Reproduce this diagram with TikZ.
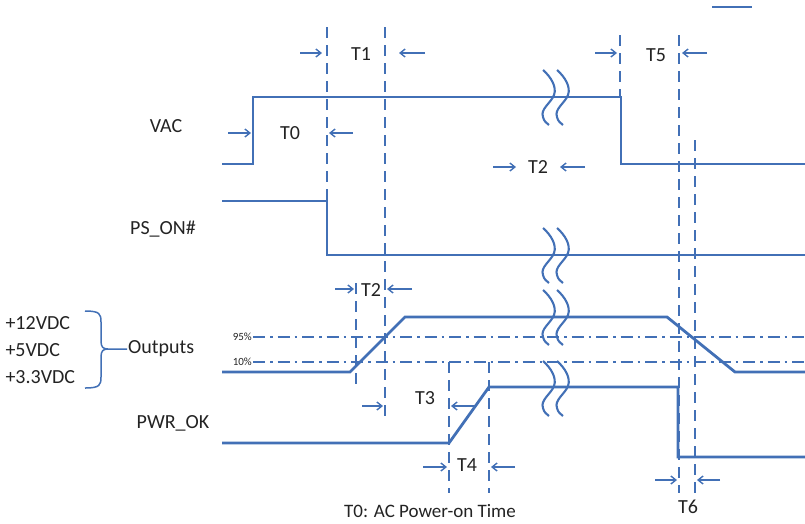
\documentclass[tikz,border=0pt]{standalone}
\usepackage{fontspec}
\setmainfont{Carlito}
\usetikzlibrary{arrows.meta}
\definecolor{sigblue}{RGB}{66,112,182}
\definecolor{txtgray}{RGB}{35,35,35}
\tikzset{
  wave/.style={sigblue,line width=2.8pt},
  vmark/.style={sigblue,line width=2.7pt,dash pattern=on 11pt off 7pt},
  lvl/.style={sigblue,line width=2.4pt,dash pattern=on 12pt off 5pt on 2.5pt off 5pt},
  tarr/.style={sigblue,line width=1.4pt,-{Straight Barb[length=5pt,width=8pt]}},
  lbl/.style={txtgray,font=\fontsize{20}{24}\selectfont},
  pct/.style={txtgray,font=\fontsize{11}{13}\selectfont,anchor=east,inner sep=1pt},
  brk/.pic={
    \foreach \dx in {0,14}
      \draw[sigblue,line width=2.1pt,xshift=\dx] (0,-27) .. controls (8,-20) and (14,-10) .. (11,-2)
        .. controls (8,6) and (-3,12) .. (0,20) .. controls (1,24) and (3,26) .. (6,28);
  }
}
\begin{document}
\begin{tikzpicture}[x=1pt,y=-1pt]
    \useasboundingbox (0,0) rectangle (805,523);
    % Signals
    \draw[wave] (222,164) -- (253,164) -- (253,97) -- (621,97) -- (621,164) -- (805,164);
    \draw[wave] (222,201) -- (327,201) -- (327,255) -- (805,255);
    \draw[wave] (222,372) -- (350,372) -- (405,317) -- (667,317) -- (735,372) -- (805,372);
    \draw[wave] (222,443) -- (449,443) -- (489,387) -- (678,387) -- (678,457) -- (805,457);
    % breaks
    \foreach \y in {97,255,317,388}
      \pic at (543,\y) {brk};
    % 95% and 10% levels
    \draw[lvl] (253,337) -- (805,337);
    \draw[lvl] (253,362) -- (805,362);
    \node[pct] (p95) at (253,337) {95\%};
    \node[pct] (p10) at (253,362) {10\%};
    % timing marks
    \foreach \x/\ya/\yb in {327/27/200, 385/27/417, 356/283/388, 620/35/97,
                            679/35/493, 695/140/493, 449/362/493, 489/362/493}
      \draw[vmark] (\x,\ya) -- (\x,\yb);
    \draw[sigblue,line width=2pt] (712,7) -- (752,7);
    % T labels with arrows
    \node[lbl] (t1) at (361,54) {T1};
    \draw[tarr] (300,53) -- (322,53);
    \draw[tarr] (425,53) -- (399,53);
    \node[lbl] (t0) at (290,133) {T0};
    \draw[tarr] (228,133) -- (251,133);
    \draw[tarr] (353,133) -- (329,133);
    \node[lbl] (t5) at (656,55) {T5};
    \draw[tarr] (595,53) -- (617,53);
    \draw[tarr] (707,53) -- (682,53);
    \node[lbl] (t2a) at (538,167) {T2};
    \draw[tarr] (493,167) -- (516,167);
    \draw[tarr] (585,167) -- (560,167);
    \node[lbl] (t2b) at (371,290) {T2};
    \draw[tarr] (335,289) -- (354,289);
    \draw[tarr] (412,289) -- (387,289);
    \node[lbl] (t3) at (425,398) {T3};
    \draw[tarr] (362,406) -- (383,406);
    \draw[tarr] (475,406) -- (451,406);
    \node[lbl] (t4) at (467,465) {T4};
    \draw[tarr] (423,467) -- (447,467);
    \draw[tarr] (515,467) -- (491,467);
    \node[lbl] (t6) at (688,507) {T6};
    \draw[tarr] (655,480) -- (677,480);
    \draw[tarr] (720,480) -- (697,480);
    % Signal names
    \node[lbl] (vac) at (166,126) {VAC};
    \node[lbl] (pson) at (163,229) {PS\_ON\#};
    \node[lbl] (pwrok) at (173,423) {PWR\_OK};
    \node[lbl,anchor=west,inner sep=1pt] (outs) at (127,349) {Outputs};
    \node[lbl,anchor=west] (p12) at (2,323) {+12VDC};
    \node[lbl,anchor=west] (p5) at (2,350) {+5VDC};
    \node[lbl,anchor=west] (p33) at (2,377) {+3.3VDC};
    \draw[sigblue,line width=1.5pt] (85,311) .. controls (100,311) and (101,314) .. (101,322) -- (101,341)
        .. controls (101,347) and (103,349) .. (108,349) -- (outs.west);
    \draw[sigblue,line width=1.5pt] (85,388) .. controls (100,388) and (101,385) .. (101,377) -- (101,357)
        .. controls (101,351) and (103,349) .. (108,349);
    \node[lbl,font=\fontsize{19}{22}\selectfont] (note) at (430,511) {T0: AC Power-on Time};
\end{tikzpicture}
\end{document}
